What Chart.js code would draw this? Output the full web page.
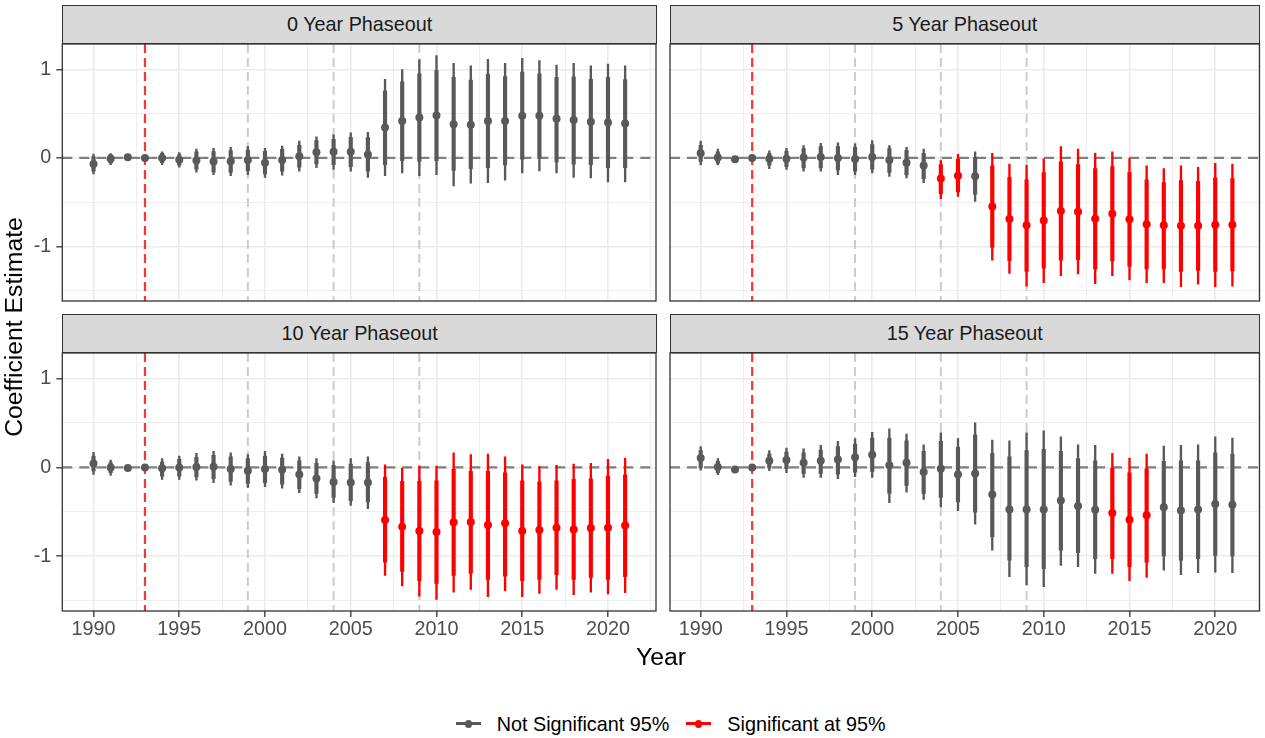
<!DOCTYPE html>
<html>
<head>
<meta charset="utf-8">
<script src="https://cdn.jsdelivr.net/npm/chart.js@4.4.1/dist/chart.umd.min.js"></script>
<style>
html,body{margin:0;padding:0;background:#fff;width:1265px;height:738px;overflow:hidden;font-family:'Liberation Sans',Arial,Helvetica,sans-serif;}
.abs{position:absolute;}
canvas{position:absolute;display:block;}
.strip{position:absolute;background:#d9d9d9;border:1.3px solid #333333;box-sizing:border-box;color:#1a1a1a;font-size:19.8px;display:flex;align-items:center;justify-content:center;}
.ltext{position:absolute;font-size:19.8px;line-height:24px;height:24px;color:#000;white-space:nowrap;}
.kline{position:absolute;height:3px;}
.kdot{position:absolute;width:7.5px;height:7.5px;border-radius:50%;}
</style>
</head>
<body>
<script>
// ---------------- data ----------------
const years = [1990,1991,1992,1993,1994,1995,1996,1997,1998,1999,2000,2001,2002,2003,2004,2005,2006,2007,2008,2009,2010,2011,2012,2013,2014,2015,2016,2017,2018,2019,2020,2021];
const panelTitles = ["0 Year Phaseout","5 Year Phaseout","10 Year Phaseout","15 Year Phaseout"];
const xTickLabels = [1990,1995,2000,2005,2010,2015,2020];
const xGridTicks = [1990,1992.5,1995,1997.5,2000,2002.5,2005,2007.5,2010,2012.5,2015,2017.5,2020,2022.5];
const yTickLabels = [-1,0,1];
const yGridTicks = [-1.5,-1,-0.5,0,0.5,1];
const treatYear = [1993];
const markerYears = [1999,2004,2009];
const legendLabels = ["Not Significant 95%","Significant at 95%"];

// 0 Year Phaseout
const p0Est  = [-0.068,-0.01,0.008,0,0,-0.02,-0.03,-0.04,-0.038,-0.023,-0.053,-0.023,0.02,0.064,0.071,0.071,0.038,0.345,0.417,0.458,0.48,0.38,0.375,0.417,0.417,0.477,0.477,0.443,0.428,0.41,0.4,0.39];
const p0Lo95 = [-0.15,-0.06,-0.015,0,-0.053,-0.083,-0.128,-0.158,-0.165,-0.143,-0.18,-0.15,-0.105,-0.068,-0.075,-0.098,-0.15,-0.075,-0.03,-0.04,-0.03,-0.14,-0.12,-0.11,-0.08,-0.015,-0.005,-0.045,-0.07,-0.075,-0.11,-0.11];
const p0Hi95 = [0.015,0.038,0.03,0,0.053,0.038,0.068,0.071,0.083,0.09,0.075,0.098,0.143,0.195,0.21,0.233,0.23,0.76,0.86,0.95,0.99,0.91,0.88,0.946,0.92,0.97,0.95,0.91,0.916,0.89,0.91,0.886];
const p0Lo99 = [-0.18,-0.075,-0.02,0,-0.075,-0.105,-0.16,-0.19,-0.2,-0.19,-0.22,-0.195,-0.15,-0.11,-0.13,-0.15,-0.22,-0.2,-0.17,-0.2,-0.19,-0.315,-0.285,-0.28,-0.25,-0.17,-0.146,-0.17,-0.22,-0.225,-0.27,-0.27];
const p0Hi99 = [0.045,0.05,0.04,0,0.07,0.06,0.1,0.11,0.12,0.13,0.11,0.135,0.19,0.24,0.26,0.285,0.29,0.89,1.0,1.11,1.156,1.07,1.04,1.115,1.07,1.126,1.1,1.05,1.07,1.04,1.06,1.04];

// 5 Year Phaseout
const p5Est  = [0.053,0.004,-0.015,0,-0.008,-0.008,0.004,0.011,0,-0.011,0.011,-0.023,-0.053,-0.086,-0.233,-0.2,-0.206,-0.548,-0.69,-0.762,-0.706,-0.6,-0.608,-0.687,-0.63,-0.694,-0.75,-0.762,-0.766,-0.766,-0.755,-0.755];
const p5Lo95 = [-0.038,-0.06,-0.03,0,-0.083,-0.098,-0.113,-0.113,-0.135,-0.15,-0.128,-0.165,-0.188,-0.233,-0.405,-0.383,-0.41,-1.01,-1.16,-1.284,-1.246,-1.156,-1.15,-1.254,-1.164,-1.224,-1.254,-1.254,-1.284,-1.27,-1.284,-1.276];
const p5Hi95 = [0.143,0.068,0.008,0,0.053,0.075,0.105,0.128,0.128,0.12,0.15,0.105,0.083,0.053,-0.075,-0.015,0.008,-0.09,-0.218,-0.248,-0.165,-0.045,-0.075,-0.12,-0.098,-0.165,-0.248,-0.278,-0.255,-0.263,-0.225,-0.233];
const p5Lo99 = [-0.08,-0.08,-0.04,0,-0.12,-0.13,-0.15,-0.15,-0.19,-0.19,-0.17,-0.21,-0.225,-0.28,-0.46,-0.435,-0.49,-1.156,-1.306,-1.449,-1.41,-1.33,-1.31,-1.42,-1.33,-1.38,-1.41,-1.41,-1.456,-1.426,-1.456,-1.449];
const p5Hi99 = [0.19,0.1,0.015,0,0.08,0.11,0.14,0.165,0.17,0.16,0.195,0.14,0.12,0.1,-0.03,0.04,0.07,0.053,-0.068,-0.083,0,0.128,0.1,0.053,0.068,-0.008,-0.09,-0.12,-0.09,-0.105,-0.06,-0.068];

// 10 Year Phaseout
const p10Est  = [0.045,0,-0.008,0,-0.011,0,0.004,0.008,-0.019,-0.038,-0.019,-0.026,-0.08,-0.124,-0.165,-0.169,-0.169,-0.593,-0.668,-0.717,-0.728,-0.619,-0.616,-0.65,-0.63,-0.717,-0.706,-0.68,-0.698,-0.683,-0.68,-0.653];
const p10Lo95 = [-0.04,-0.06,-0.026,0,-0.098,-0.098,-0.105,-0.128,-0.158,-0.18,-0.173,-0.188,-0.24,-0.293,-0.338,-0.375,-0.39,-1.066,-1.17,-1.276,-1.306,-1.216,-1.194,-1.261,-1.224,-1.276,-1.261,-1.209,-1.261,-1.239,-1.261,-1.231];
const p10Hi95 = [0.128,0.053,0.011,0,0.06,0.09,0.113,0.135,0.12,0.098,0.128,0.105,0.075,0.045,0.023,0.038,0.053,-0.113,-0.158,-0.158,-0.15,-0.023,-0.045,-0.045,-0.06,-0.15,-0.165,-0.15,-0.135,-0.128,-0.098,-0.083];
const p10Lo99 = [-0.08,-0.09,-0.035,0,-0.135,-0.135,-0.143,-0.173,-0.2,-0.225,-0.218,-0.233,-0.285,-0.345,-0.398,-0.428,-0.465,-1.216,-1.336,-1.449,-1.486,-1.404,-1.374,-1.456,-1.389,-1.456,-1.419,-1.374,-1.434,-1.404,-1.426,-1.411];
const p10Hi99 = [0.17,0.083,0.02,0,0.1,0.128,0.158,0.18,0.165,0.143,0.18,0.15,0.12,0.098,0.075,0.098,0.12,0.03,0,0.015,0.015,0.165,0.143,0.15,0.12,0.03,0.008,0.023,0.038,0.045,0.09,0.105];

// 15 Year Phaseout
const p15Est  = [0.105,0.004,-0.023,0,0.075,0.083,0.053,0.075,0.09,0.113,0.143,0.023,0.053,-0.053,-0.015,-0.079,-0.068,-0.304,-0.473,-0.473,-0.473,-0.372,-0.435,-0.478,-0.514,-0.589,-0.54,-0.45,-0.484,-0.473,-0.413,-0.42];
const p15Lo95 = [-0.005,-0.06,-0.04,0,-0.005,-0.015,-0.068,-0.068,-0.075,-0.053,-0.045,-0.293,-0.203,-0.293,-0.338,-0.39,-0.503,-0.78,-1.044,-1.119,-1.141,-0.931,-0.961,-1.029,-1.029,-1.119,-1.066,-0.998,-1.044,-1.029,-0.991,-0.998];
const p15Hi95 = [0.19,0.068,0.003,0,0.15,0.173,0.165,0.195,0.233,0.263,0.33,0.33,0.3,0.18,0.293,0.225,0.368,0.158,0.12,0.188,0.203,0.18,0.098,0.075,-0.008,-0.06,-0.015,0.068,0.075,0.075,0.165,0.15];
const p15Lo99 = [-0.03,-0.083,-0.05,0,-0.038,-0.06,-0.113,-0.113,-0.128,-0.105,-0.113,-0.398,-0.278,-0.36,-0.443,-0.488,-0.638,-0.931,-1.231,-1.32,-1.344,-1.104,-1.119,-1.194,-1.194,-1.276,-1.239,-1.156,-1.209,-1.186,-1.179,-1.186];
const p15Hi99 = [0.233,0.098,0.01,0,0.188,0.218,0.21,0.248,0.293,0.323,0.394,0.435,0.375,0.255,0.39,0.323,0.503,0.308,0.3,0.39,0.413,0.345,0.255,0.248,0.158,0.105,0.15,0.24,0.248,0.255,0.345,0.33];

// ---------------- styling / layout ----------------
const GREY = '#595959', RED = '#ff0000';
const FONT = "'Liberation Sans', Arial, Helvetica, sans-serif";
Chart.defaults.font.family = FONT;

const panels = [
  {title:panelTitles[0], est:p0Est, lo95:p0Lo95, hi95:p0Hi95, lo99:p0Lo99, hi99:p0Hi99,
   box:{left:0,top:40,width:660,height:265}, pad:{left:0,top:3,right:3,bottom:4}, yW:62.3, xH:0, showY:true, showX:false, xmin:1988.18, xmax:2022.8, strip:{left:62.3,top:5,width:594.7,height:38.8}},
  {title:panelTitles[1], est:p5Est, lo95:p5Lo95, hi95:p5Hi95, lo99:p5Lo99, hi99:p5Hi99,
   box:{left:660,top:40,width:605,height:265}, pad:{left:0,top:3,right:5.5,bottom:4}, yW:10, xH:0, showY:false, showX:false, xmin:1988.21, xmax:2022.58, strip:{left:670,top:5,width:589.5,height:38.8}},
  {title:panelTitles[2], est:p10Est, lo95:p10Lo95, hi95:p10Hi95, lo99:p10Lo99, hi99:p10Hi99,
   box:{left:0,top:349,width:660,height:300}, pad:{left:0,top:3,right:3,bottom:0}, yW:62.3, xH:38, showY:true, showX:true, xmin:1988.18, xmax:2022.8, strip:{left:62.3,top:314,width:594.7,height:38.8}},
  {title:panelTitles[3], est:p15Est, lo95:p15Lo95, hi95:p15Hi95, lo99:p15Lo99, hi99:p15Hi99,
   box:{left:660,top:349,width:605,height:300}, pad:{left:0,top:3,right:5.5,bottom:0}, yW:10, xH:38, showY:false, showX:true, xmin:1988.21, xmax:2022.58, strip:{left:670,top:314,width:589.5,height:38.8}}
];

const refLines = {
  id:'refLines',
  beforeDatasetsDraw(chart){
    const {ctx, chartArea:a, scales:{x,y}} = chart;
    ctx.save();
    ctx.beginPath(); ctx.rect(a.left,a.top,a.right-a.left,a.bottom-a.top); ctx.clip();
    ctx.strokeStyle = '#cccccc'; ctx.lineWidth = 2; ctx.setLineDash([9,5]);
    markerYears.forEach(v=>{ const px = x.getPixelForValue(v); ctx.beginPath(); ctx.moveTo(px,a.top); ctx.lineTo(px,a.bottom); ctx.stroke(); });
    ctx.strokeStyle = 'rgba(255,0,0,0.8)'; ctx.lineWidth = 2.2; ctx.setLineDash([9,5]);
    treatYear.forEach(v=>{ const px = x.getPixelForValue(v); ctx.beginPath(); ctx.moveTo(px,a.top); ctx.lineTo(px,a.bottom); ctx.stroke(); });
    ctx.strokeStyle = '#7f7f7f'; ctx.lineWidth = 2.2; ctx.setLineDash([10,7]);
    const py = y.getPixelForValue(0);
    ctx.beginPath(); ctx.moveTo(a.left,py); ctx.lineTo(a.right,py); ctx.stroke();
    ctx.restore();
  },
  afterDraw(chart){
    const {ctx, chartArea:a} = chart;
    ctx.save();
    ctx.strokeStyle = '#333333'; ctx.lineWidth = 1.3; ctx.setLineDash([]);
    ctx.strokeRect(a.left, a.top, a.right-a.left, a.bottom-a.top);
    ctx.restore();
  }
};

panels.forEach((p, idx) => {
  const strip = document.createElement('div');
  strip.className = 'strip';
  Object.assign(strip.style, {left:p.strip.left+'px', top:p.strip.top+'px', width:p.strip.width+'px', height:p.strip.height+'px'});
  strip.textContent = p.title;

  const cv = document.createElement('canvas');
  cv.width = p.box.width; cv.height = p.box.height;
  Object.assign(cv.style, {left:p.box.left+'px', top:p.box.top+'px', width:p.box.width+'px', height:p.box.height+'px'});
  document.body.appendChild(cv);
  document.body.appendChild(strip);

  const colors = years.map((_, i) => (p.lo95[i] > 0 || p.hi95[i] < 0) ? RED : GREY);
  const thin  = years.map((yr, i) => ({x: yr, y: [p.lo99[i], p.hi99[i]]}));
  const thick = years.map((yr, i) => ({x: yr, y: [p.lo95[i], p.hi95[i]]}));
  const pts   = years.map((yr, i) => ({x: yr, y: p.est[i]}));

  new Chart(cv, {
    type: 'bar',
    data: {
      datasets: [
        {type:'bar', label:'99%', data:thin, backgroundColor:colors, barThickness:1.7, grouped:false, borderWidth:0, borderSkipped:false, order:3},
        {type:'bar', label:'95%', data:thick, backgroundColor:colors, barThickness:3.5, grouped:false, borderWidth:0, borderSkipped:false, order:2},
        {type:'scatter', label:'Estimate', data:pts, pointRadius:4, pointHoverRadius:4, pointBackgroundColor:colors, pointBorderWidth:0, showLine:false, order:1}
      ]
    },
    options: {
      responsive:false, animation:false, events:[],
      layout:{padding:p.pad},
      plugins:{legend:{display:false}, tooltip:{enabled:false}},
      scales:{
        x:{
          type:'linear', min:p.xmin, max:p.xmax, bounds:'data', offset:false,
          border:{display:false},
          grid:{offset:false, color:'#ebebeb',
            lineWidth:c => (c.tick && xTickLabels.includes(c.tick.value)) ? 1.6 : 0.8,
            drawTicks:p.showX, tickLength:6, tickWidth:1.3,
            tickColor:c => (c.tick && xTickLabels.includes(c.tick.value)) ? '#333333' : 'rgba(0,0,0,0)'},
          ticks:{display:p.showX, autoSkip:false, maxRotation:0, minRotation:0,
            padding:1, color:'#4d4d4d', font:{size:19.8, family:FONT},
            callback:v => xTickLabels.includes(v) ? String(v) : ''},
          afterBuildTicks:s => { s.ticks = xGridTicks.map(v => ({value:v})); },
          afterFit:s => { s.height = p.xH; s.paddingLeft = 0; s.paddingRight = 0; }
        },
        y:{
          type:'linear', min:-1.617, max:1.288, bounds:'data', beginAtZero:false,
          border:{display:false},
          grid:{color:'#ebebeb',
            lineWidth:c => (c.tick && yTickLabels.includes(c.tick.value)) ? 1.6 : 0.8,
            drawTicks:p.showY, tickLength:6, tickWidth:1.3,
            tickColor:c => (c.tick && yTickLabels.includes(c.tick.value)) ? '#333333' : 'rgba(0,0,0,0)'},
          ticks:{display:p.showY, autoSkip:false,
            padding:5, color:'#4d4d4d', font:{size:19.8, family:FONT},
            callback:v => yTickLabels.includes(v) ? String(v) : ''},
          afterBuildTicks:s => { s.ticks = yGridTicks.map(v => ({value:v})); },
          afterFit:s => { s.width = p.yW; s.paddingTop = 0; s.paddingBottom = 0; }
        }
      }
    },
    plugins:[refLines]
  });
});

// axis titles
const xt = document.createElement('div');
xt.className = 'abs';
Object.assign(xt.style, {left:'461px', top:'642px', width:'400px', textAlign:'center', fontSize:'24.75px', lineHeight:'30px', color:'#000'});
xt.textContent = 'Year';
document.body.appendChild(xt);

const yt = document.createElement('div');
yt.className = 'abs';
Object.assign(yt.style, {left:(14-200)+'px', top:(327-15)+'px', width:'400px', textAlign:'center', fontSize:'24.75px', lineHeight:'30px', color:'#000', transform:'rotate(-90deg)'});
yt.textContent = 'Coefficient Estimate';
document.body.appendChild(yt);

// legend
const legendItems = [
  {label:legendLabels[0], color:GREY, keyLeft:456, textLeft:496.7},
  {label:legendLabels[1], color:RED, keyLeft:686, textLeft:727.3}
];
legendItems.forEach(it => {
  const ln = document.createElement('div'); ln.className = 'kline';
  Object.assign(ln.style, {left:it.keyLeft+'px', top:'722.3px', width:'24.5px', background:it.color});
  const dt = document.createElement('div'); dt.className = 'kdot';
  Object.assign(dt.style, {left:(it.keyLeft+12.25-3.75)+'px', top:(723.8-3.75)+'px', background:it.color});
  const tx = document.createElement('div'); tx.className = 'ltext';
  Object.assign(tx.style, {left:it.textLeft+'px', top:'711.7px'});
  tx.textContent = it.label;
  document.body.appendChild(ln); document.body.appendChild(dt); document.body.appendChild(tx);
});
</script>
</body>
</html>
